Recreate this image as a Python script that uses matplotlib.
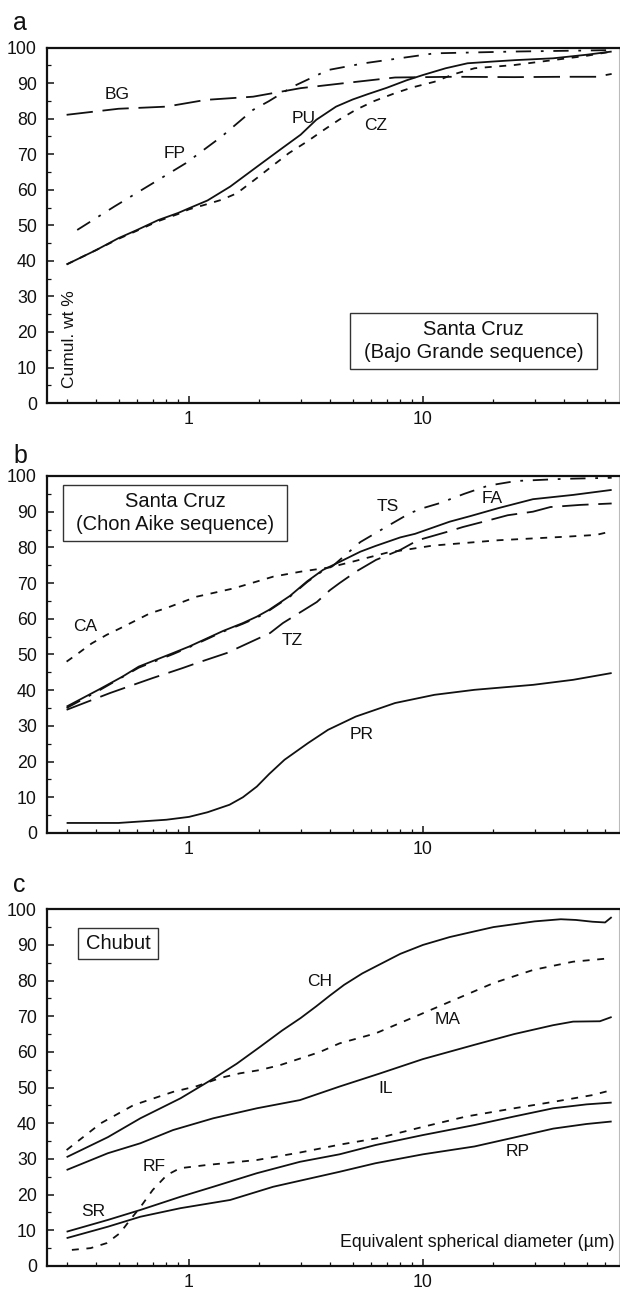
import matplotlib
matplotlib.use('Agg')
import matplotlib.pyplot as plt
from matplotlib.patches import Rectangle
from matplotlib.ticker import FixedLocator, NullFormatter

plt.rcParams['font.family'] = ['Liberation Sans', 'DejaVu Sans']
plt.rcParams['lines.scale_dashes'] = False

# ---------------- data (x = equivalent spherical diameter, um; y = cumul. wt %) -------------
# Panel a: Santa Cruz (Bajo Grande sequence)
PU_x = [0.3, 0.4, 0.5, 0.6, 0.74, 0.9, 1.0, 1.2, 1.5, 2.0, 2.5, 3.0, 3.5, 4.25, 5.0, 5.8, 7.0, 8.5, 10, 12.5, 15.5, 20, 25, 36, 50, 64]
PU_y = [39, 43, 46.4, 48.7, 51.5, 53.5, 54.8, 57, 60.9, 67, 71.7, 75.5, 79.7, 83.4, 85.4, 86.9, 88.7, 90.8, 92.3, 94.2, 95.6, 96.1, 96.5, 97, 98, 98.9]
CZ_x = [0.3, 0.4, 0.5, 0.6, 0.74, 0.9, 1.0, 1.2, 1.38, 1.6, 1.95, 2.3, 2.67, 3.2, 3.78, 4.4, 5.16, 6.2, 7.6, 9.0, 11.2, 13.5, 16.6, 24.5, 36, 50, 64]
CZ_y = [39, 43, 46.2, 48.5, 51.2, 53.2, 54.5, 56, 57.2, 59, 63.3, 67, 70.3, 73.6, 76.9, 79.8, 82.5, 85, 87.2, 88.8, 90.4, 92.5, 94.2, 95.1, 96.5, 97.7, 98.9]
BG_x = [0.3, 0.5, 0.8, 1.18, 1.88, 3.0, 4.6, 7.6, 13.6, 24.5, 40, 55, 64]
BG_y = [81.1, 82.8, 83.4, 85.3, 86.2, 88.6, 90, 91.6, 91.8, 91.7, 91.8, 91.8, 92.6]
FP_x = [0.333, 0.48, 0.74, 0.97, 1.38, 1.88, 2.19, 2.77, 3.93, 5.6, 11.2, 24.5, 64]
FP_y = [48.7, 55.3, 62.8, 67.5, 75, 82.5, 84.9, 89, 93.7, 95.6, 98.4, 98.9, 99.3]

# Panel b: Santa Cruz (Chon Aike sequence)
FA_x = [0.3, 0.41, 0.52, 0.61, 0.855, 1.0, 1.4, 1.7, 1.95, 2.2, 2.7, 3.2, 3.74, 4.27, 5.4, 6.27, 8.0, 9.25, 13, 16, 21, 29.5, 43.8, 64]
FA_y = [35.4, 40.1, 43.8, 46.6, 50.4, 52.2, 56.6, 58.8, 60.6, 62.5, 66.4, 70.5, 73.7, 75.5, 78.8, 80.4, 82.8, 83.8, 87.2, 88.8, 91, 93.5, 94.7, 96.1]
TS_x = [0.3, 0.41, 0.61, 0.855, 1.0, 1.4, 1.7, 1.95, 2.2, 2.7, 3.2, 3.74, 4.1, 5.4, 7.2, 8.8, 10, 11.8, 15, 19, 25, 40, 64]
TS_y = [35.0, 39.8, 46.3, 50.1, 52.0, 56.4, 58.6, 60.3, 62.3, 66.2, 70.3, 73.5, 74.7, 81.5, 86.3, 89.6, 91, 92.4, 95, 97.3, 98.6, 99.2, 99.5]
TZ_x = [0.3, 0.46, 0.7, 0.94, 1.08, 1.45, 1.65, 2.22, 2.52, 3.52, 4.0, 4.4, 5.2, 6.3, 8.0, 9.5, 12.6, 14.8, 19.4, 23, 29.5, 35, 47, 64]
TZ_y = [34.5, 39.2, 43.4, 46.2, 47.6, 50.4, 52.1, 56, 58.8, 64.7, 68, 70, 73.3, 76.5, 79.3, 82, 84.3, 85.7, 87.7, 89, 90, 91.3, 91.9, 92.3]
CA_x = [0.3, 0.336, 0.384, 0.445, 0.507, 0.6, 0.68, 0.8, 1.08, 1.55, 2.29, 3.0, 4.0, 5.0, 7.0, 11, 21, 41, 55, 64]
CA_y = [48, 50.3, 53.1, 55.5, 57.3, 59.7, 61.5, 63, 66.2, 68.5, 71.8, 73.2, 74.4, 76, 78.5, 80.5, 82, 83, 83.5, 84.5]
PR_x = [0.3, 0.5, 0.8, 1.0, 1.2, 1.49, 1.7, 1.95, 2.2, 2.56, 3.23, 3.93, 5.16, 7.6, 11.2, 16.6, 29.6, 43.8, 64]
PR_y = [2.8, 2.8, 3.7, 4.5, 5.8, 7.9, 10, 13, 16.5, 20.5, 25.2, 28.9, 32.6, 36.4, 38.7, 40.1, 41.5, 42.9, 44.8]

# Panel c: Chubut
CH_x = [0.3, 0.45, 0.62, 0.92, 1.27, 1.6, 2.0, 2.5, 3.0, 3.5, 4.0, 4.6, 5.5, 6.3, 8, 10, 13, 16.6, 20, 24.5, 30, 38.8, 45, 53, 60, 64]
CH_y = [30.5, 36.1, 41.4, 47, 52.5, 56.7, 61.3, 66, 69.5, 72.8, 75.8, 78.8, 82, 84, 87.5, 90, 92.2, 93.8, 95, 95.8, 96.6, 97.2, 97, 96.5, 96.3, 97.8]
MA_x = [0.3, 0.42, 0.58, 0.855, 1.08, 1.36, 1.65, 2.0, 2.45, 3.0, 3.63, 4.4, 6.27, 9.25, 13.6, 20, 29.6, 43.8, 64]
MA_y = [32.5, 40, 45.1, 48.8, 50.4, 52.7, 54, 54.9, 56.3, 58.2, 60, 62.4, 65.2, 69.9, 74.6, 79.3, 83, 85.3, 86.3]
IL_x = [0.3, 0.45, 0.62, 0.855, 1.27, 1.95, 2.98, 4.4, 6.5, 10, 16.6, 24.5, 36, 43.8, 57, 64]
IL_y = [26.9, 31.6, 34.4, 38.1, 41.4, 44.2, 46.5, 50.3, 53.9, 58, 62, 65, 67.5, 68.5, 68.6, 69.8]
RF_x = [0.316, 0.38, 0.445, 0.507, 0.56, 0.62, 0.70, 0.805, 0.915, 1.19, 1.95, 2.98, 4.4, 6.5, 10, 15.3, 24.5, 36, 53, 64]
RF_y = [4.5, 5, 6.4, 9.2, 12.9, 16.5, 21.3, 25.5, 27.4, 28.3, 29.7, 31.8, 34.0, 35.9, 39, 41.9, 44.2, 46, 47.9, 49.3]
SR_x = [0.3, 0.45, 0.62, 0.92, 1.27, 1.95, 2.98, 4.4, 6.27, 10, 16.6, 24.5, 36, 50, 64]
SR_y = [9.6, 12.9, 15.7, 19.4, 22.2, 26, 29.2, 31.3, 33.9, 36.7, 39.5, 41.9, 44.2, 45.3, 45.8]
RP_x = [0.3, 0.45, 0.62, 0.92, 1.5, 2.29, 4.4, 6.27, 10, 16.6, 24.5, 36, 50, 64]
RP_y = [7.8, 11, 13.8, 16.2, 18.5, 22.2, 26.4, 28.8, 31.3, 33.5, 36, 38.5, 39.8, 40.5]

# curve label positions (x, y) in data units
labels_a = {'BG': (0.494, 86.7), 'FP': (0.87, 70.1), 'PU': (3.09, 80.1), 'CZ': (6.27, 78)}
labels_b = {'CA': (0.36, 57.8), 'TZ': (2.77, 53.9), 'TS': (7.05, 91.4), 'FA': (19.8, 93.8), 'PR': (5.47, 27.5)}
labels_c = {'CH': (3.6, 79.7), 'MA': (12.8, 69), 'IL': (6.9, 49.8), 'RF': (0.71, 28), 'SR': (0.39, 15.2), 'RP': (25.4, 32.1)}

y_ticks = list(range(0, 101, 10))
y_minor = list(range(5, 100, 10))
x_ticks = [1, 10]
x_tick_labels = ['1', '10']
x_minor = [0.3, 0.4, 0.5, 0.6, 0.7, 0.8, 0.9, 2, 3, 4, 5, 6, 7, 8, 9, 20, 30, 40, 50, 60]

# ---------------- styles ----------------
LW = 1.3
SOLID = '-'
SHORT = (0, (5, 5.5))
LONG = (0, (19, 7))
DASHDOT = (0, (11, 7, 2, 7))
COL = '#111111'

fig = plt.figure(figsize=(6.2, 12.91), dpi=100)
positions = [[0.0753, 0.6878, 0.9231, 0.2753],
             [0.0753, 0.3548, 0.9231, 0.2765],
             [0.0753, 0.0194, 0.9231, 0.2763]]
axs = [fig.add_axes(p) for p in positions]

for ax in axs:
    ax.set_xscale('log')
    ax.set_xlim(0.2466, 68.8)
    ax.set_ylim(0, 100)
    ax.yaxis.set_major_locator(FixedLocator(y_ticks))
    ax.yaxis.set_minor_locator(FixedLocator(y_minor))
    ax.xaxis.set_major_locator(FixedLocator(x_ticks))
    ax.set_xticklabels(x_tick_labels)
    ax.xaxis.set_minor_locator(FixedLocator(x_minor))
    ax.xaxis.set_minor_formatter(NullFormatter())
    ax.tick_params(which='both', direction='in', top=False, right=False,
                   labelsize=12.8, colors=COL)
    ax.tick_params(which='major', length=5, width=1.1)
    ax.tick_params(which='minor', length=3, width=0.9)
    ax.tick_params(axis='y', pad=7)
    ax.tick_params(axis='x', pad=6)
    for s in ['left', 'bottom', 'top']:
        ax.spines[s].set_linewidth(1.6)
        ax.spines[s].set_color(COL)
    ax.spines['right'].set_linewidth(0.8)
    ax.spines['right'].set_color('#bbbbbb')

def plot(ax, x, y, ls):
    ax.plot(x, y, color=COL, lw=LW, linestyle=ls, solid_capstyle='butt', dash_capstyle='butt')

def add_box(ax, l, b, r, t, text):
    ax.add_patch(Rectangle((l, b), r - l, t - b, transform=ax.transAxes, fill=False,
                           edgecolor='#333333', lw=1.0, zorder=5))
    ax.text((l + r) / 2, (b + t) / 2, text, transform=ax.transAxes, ha='center', va='center',
            fontsize=14.5, linespacing=1.25, color=COL, zorder=6)

# Panel a
a = axs[0]
plot(a, BG_x, BG_y, LONG)
plot(a, FP_x, FP_y, DASHDOT)
plot(a, CZ_x, CZ_y, SHORT)
plot(a, PU_x, PU_y, SOLID)
for k, (x, y) in labels_a.items():
    a.text(x, y, k, fontsize=12.5, ha='center', va='center', color=COL)
add_box(a, 0.530, 0.0957, 0.9616, 0.2533, 'Santa Cruz\n(Bajo Grande sequence)')
a.text(0.0407, 0.042, 'Cumul. wt %', transform=a.transAxes, rotation=90,
       ha='center', va='bottom', fontsize=12.5, color=COL)

# Panel b
b = axs[1]
plot(b, CA_x, CA_y, SHORT)
plot(b, TS_x, TS_y, DASHDOT)
plot(b, TZ_x, TZ_y, LONG)
plot(b, FA_x, FA_y, SOLID)
plot(b, PR_x, PR_y, SOLID)
for k, (x, y) in labels_b.items():
    b.text(x, y, k, fontsize=12.5, ha='center', va='center', color=COL)
add_box(b, 0.029, 0.8179, 0.4204, 0.9748, 'Santa Cruz\n(Chon Aike sequence)')

# Panel c
c = axs[2]
plot(c, MA_x, MA_y, SHORT)
plot(c, RF_x, RF_y, SHORT)
plot(c, CH_x, CH_y, SOLID)
plot(c, IL_x, IL_y, SOLID)
plot(c, SR_x, SR_y, SOLID)
plot(c, RP_x, RP_y, SOLID)
for k, (x, y) in labels_c.items():
    c.text(x, y, k, fontsize=12.5, ha='center', va='center', color=COL)
add_box(c, 0.0552, 0.8598, 0.195, 0.9467, 'Chubut')
c.text(0.993, 0.0645, 'Equivalent spherical diameter (\u00b5m)', transform=c.transAxes,
       ha='right', va='center', fontsize=12.8, color=COL)

# panel letters
for letter, ybase in [('a', 30), ('b', 463), ('c', 892)]:
    fig.text(13 / 620, 1 - ybase / 1291, letter, fontsize=18, ha='left', va='baseline', color=COL)

fig.savefig('out.png', dpi=100)
